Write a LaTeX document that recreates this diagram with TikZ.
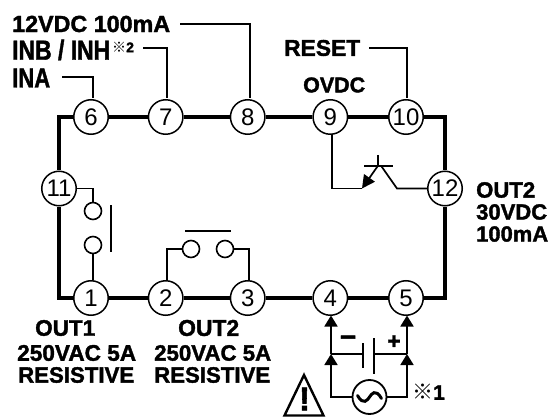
\documentclass[tikz,border=0pt]{standalone}
\usepackage{fontspec}
\setmainfont[BoldFeatures={FakeBold=1.6}]{Liberation Sans}
\newfontfamily\symfont{Noto Sans CJK JP}
\usetikzlibrary{arrows.meta}
\tikzset{
  term/.style={circle,draw,fill=white,line width=1.5pt,minimum size=34.5pt,inner sep=0pt,font=\fontsize{24}{24}\selectfont},
  contact/.style={circle,draw,fill=white,line width=1.6pt,minimum size=17pt,inner sep=0pt},
  bus/.style={line width=3.6pt,line cap=butt,line join=miter},
  wire/.style={line width=1.7pt,line join=miter},
  arrowwire/.style={line width=1.8pt,line join=miter,-{Triangle[width=13pt,length=11pt]},shorten >=0pt},
  lab/.style={font=\bfseries\fontsize{21}{21}\selectfont,inner sep=0pt,anchor=west},
  hint/.style={inner sep=0pt}
}
\newcommand{\wlab}[2]{\resizebox{#1pt}{!}{#2}}
\newcommand{\hlab}[3]{\resizebox{#1pt}{#2pt}{#3}}
\begin{document}
\begin{tikzpicture}[x=1pt,y=-1pt]
\useasboundingbox (0,0) rectangle (549,417);
% terminals
\node[term] (n6) at (91,117) {6};
\node[term] (n7) at (165.7,117) {7};
\node[term] (n8) at (247.7,117) {8};
\node[term] (n9) at (330.3,117) {9};
\node[term] (n10) at (406,117) {10};
\node[term] (n11) at (59,188.5) {11};
\node[term] (n12) at (445,188.5) {12};
\node[term] (n1) at (91,298) {1};
\node[term] (n2) at (165.7,298) {2};
\node[term] (n3) at (247.7,298) {3};
\node[term] (n4) at (330.3,298) {4};
\node[term] (n5) at (406,298) {5};
% bus frame
\draw[bus] (n11) -- (n11 |- n6) -- (n6);
\draw[bus] (n6) -- (n7);
\draw[bus] (n7) -- (n8);
\draw[bus] (n8) -- (n9);
\draw[bus] (n9) -- (n10);
\draw[bus] (n10) -- (n12 |- n10) -- (n12);
\draw[bus] (n12) -- (n12 |- n5) -- (n5);
\draw[bus] (n4) -- (n5);
\draw[bus] (n3) -- (n4);
\draw[bus] (n2) -- (n3);
\draw[bus] (n1) -- (n2);
\draw[bus] (n11) -- (n11 |- n1) -- (n1);
% labels at top
\node[lab] (t12) at (12,24) {\wlab{158}{12VDC 100mA}};
\node[lab] (tinb) at (12,50) {\hlab{98}{20}{INB / INH}};
\node[inner sep=0pt,anchor=west,font=\fontsize{14}{14}\selectfont] (tnote2) at (112,47) {{\symfont ※}\textbf{2}};
\node[lab] (tina) at (12,78) {\hlab{38}{19}{INA}};
\node[lab] (treset) at (284,48) {\wlab{76}{RESET}};
\node[lab] (tovdc) at (303,85) {\wlab{62}{OVDC}};
\coordinate (c12) at (180,24);
\coordinate (cinb) at (143,48);
\coordinate (cina) at (62,77);
\coordinate (creset) at (369,48);
\draw[wire] (c12) -| ([xshift=2pt,yshift=.5pt]n8.north);
\draw[wire] (cinb) -| ([xshift=1.5pt,yshift=.5pt]n7.north);
\draw[wire] (cina) -| ([xshift=2pt,yshift=.5pt]n6.north);
\draw[wire] (creset) -| ([xshift=1pt,yshift=.5pt]n10.north);
% relay contact 1
\node[contact] (k1) at (93,211) {};
\node[contact] (k2) at (93,245) {};
\coordinate (barA) at (111,205);
\coordinate (barB) at (111,252);
\draw[wire] (barA) -- (barB);
\draw[wire] (n11.east) -| (k1.north);
\draw[wire] (k2.south) -- (k2.south |- n1.north);
% relay contact 2
\node[contact] (k3) at (191,249) {};
\node[contact] (k4) at (225,249) {};
\coordinate (barC) at (185,231);
\coordinate (barD) at (231,231);
\draw[wire] (barC) -- (barD);
\draw[wire] ([xshift=1.5pt,yshift=-.5pt]n2.north) |- (k3.west);
\draw[wire] ([xshift=1pt,yshift=-.5pt]n3.north) |- (k4.east);
% transistor
\coordinate (base) at (362,188.5);
\coordinate (emit) at (378,165.7);
\coordinate (coll) at (397,188.5);
\coordinate (barE) at (364,165.7);
\coordinate (barF) at (393,165.7);
\coordinate (tick) at (378,155);
\coordinate (tickb) at (378,165.7);
\draw[wire] ([xshift=1.5pt,yshift=.5pt]n9.south) |- (base);
\draw[wire,-{Triangle[width=13pt,length=13pt]}] (emit) -- (base);
\draw[wire] (barE) -- (barF);
\draw[wire] (tick) -- (tickb);
\draw[wire] (381,165.7) -- (coll) -- (n12.west);
% power input
\node[term,minimum size=34pt,line width=1.8pt] (ac) at (369.5,397) {};
\draw[line width=3pt,line cap=round] ([xshift=-12pt,yshift=1.5pt]ac.center) .. controls ([xshift=-6pt,yshift=-9pt]ac.center) and ([xshift=-2pt,yshift=-3pt]ac.center) .. (ac.center) .. controls ([xshift=2pt,yshift=3pt]ac.center) and ([xshift=6pt,yshift=9pt]ac.center) .. ([xshift=12pt,yshift=-1.5pt]ac.center);
\coordinate (j4) at (331,354);
\coordinate (j5) at (407,354);
\coordinate (p1) at (363,354);
\coordinate (p2) at (374,354);
\draw[arrowwire] (ac.west) -| (j4);
\draw[arrowwire] (ac.east) -| (j5);
\draw[arrowwire] (j4) -- (331,315.5);
\draw[arrowwire] (j5) -- (407,315.5);
\draw[wire] (j4) -- (p1);
\draw[wire] (j5) -- (p2);
\draw[line width=2.2pt] (363,343) -- (363,368);
\draw[line width=2.2pt] (374,338) -- (374,374);
\node[hint,font=\bfseries\fontsize{28}{28}\selectfont] (minus) at (348,341) {\textminus};
\node[hint,font=\bfseries\fontsize{23}{23}\selectfont] (plus) at (394,342) {+};
\node[inner sep=0pt,anchor=west,font=\fontsize{21}{21}\selectfont] (note1) at (412,392) {{\symfont ※}\textbf{1}};
% warning
\draw[line width=2.4pt,line join=miter] (304,375) -- (323.5,415.5) -- (284.5,415.5) -- cycle;
\node[hint,font=\bfseries\fontsize{33}{33}\selectfont] (warn) at (304.5,399) {!};
% right label
\node[lab] (o2a) at (476,190) {\wlab{59}{OUT2}};
\node[lab] (o2b) at (476,212) {\wlab{71}{30VDC}};
\node[lab] (o2c) at (476,234) {\wlab{72}{100mA}};
% bottom labels
\node[lab] (o1) at (35,328) {\wlab{60}{OUT1}};
\node[lab] (v1) at (17,353) {\wlab{119}{250VAC 5A}};
\node[lab] (r1) at (18,375) {\wlab{116}{RESISTIVE}};
\node[lab] (o3) at (178,328) {\wlab{61}{OUT2}};
\node[lab] (v2) at (154,353) {\wlab{117}{250VAC 5A}};
\node[lab] (r2) at (154,375) {\wlab{116}{RESISTIVE}};
\end{tikzpicture}
\end{document}
